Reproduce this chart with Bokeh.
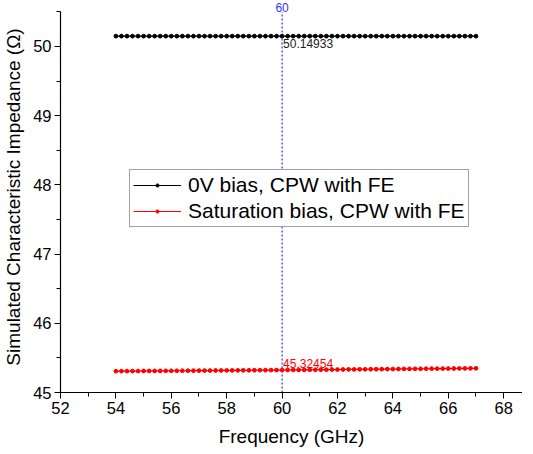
from bokeh.plotting import figure
from bokeh.models import Legend, LegendItem, Label, SingleIntervalTicker
from bokeh.embed import file_html
from bokeh.resources import INLINE

freq = [54.0, 54.2, 54.4, 54.6, 54.8, 55.0, 55.2, 55.4, 55.6, 55.8,
        56.0, 56.2, 56.4, 56.6, 56.8, 57.0, 57.2, 57.4, 57.6, 57.8,
        58.0, 58.2, 58.4, 58.6, 58.8, 59.0, 59.2, 59.4, 59.6, 59.8,
        60.0, 60.2, 60.4, 60.6, 60.8, 61.0, 61.2, 61.4, 61.6, 61.8,
        62.0, 62.2, 62.4, 62.6, 62.8, 63.0, 63.2, 63.4, 63.6, 63.8,
        64.0, 64.2, 64.4, 64.6, 64.8, 65.0, 65.2, 65.4, 65.6, 65.8,
        66.0, 66.2, 66.4, 66.6, 66.8, 67.0]

z_0v = [50.1494, 50.1494, 50.1494, 50.1494, 50.1494, 50.1494, 50.1494, 50.1494, 50.1494, 50.1494,
        50.1494, 50.1494, 50.1494, 50.1493, 50.1493, 50.1493, 50.1493, 50.1493, 50.1493, 50.1493,
        50.1493, 50.1493, 50.1493, 50.1493, 50.1493, 50.1493, 50.1493, 50.1493, 50.1493, 50.1493,
        50.1493, 50.1493, 50.1493, 50.1493, 50.1493, 50.1493, 50.1493, 50.1493, 50.1493, 50.1493,
        50.1493, 50.1493, 50.1493, 50.1493, 50.1493, 50.1492, 50.1492, 50.1492, 50.1492, 50.1492,
        50.1492, 50.1492, 50.1492, 50.1492, 50.1492, 50.1492, 50.1492, 50.1492, 50.1492, 50.1492,
        50.1492, 50.1492, 50.1492, 50.1492, 50.1492, 50.1492]

z_sat = [45.3080, 45.3085, 45.3091, 45.3096, 45.3102, 45.3107, 45.3113, 45.3118, 45.3124, 45.3129,
         45.3135, 45.3140, 45.3146, 45.3151, 45.3157, 45.3162, 45.3168, 45.3173, 45.3179, 45.3184,
         45.3190, 45.3195, 45.3201, 45.3206, 45.3212, 45.3217, 45.3223, 45.3228, 45.3234, 45.3239,
         45.3245, 45.3252, 45.3260, 45.3267, 45.3274, 45.3282, 45.3289, 45.3296, 45.3303, 45.3311,
         45.3318, 45.3325, 45.3333, 45.3340, 45.3347, 45.3355, 45.3362, 45.3369, 45.3376, 45.3384,
         45.3391, 45.3398, 45.3406, 45.3413, 45.3420, 45.3428, 45.3435, 45.3442, 45.3449, 45.3457,
         45.3464, 45.3471, 45.3479, 45.3486, 45.3493, 45.3500]

series_names = ["0V bias, CPW with FE", "Saturation bias, CPW with FE"]
marker_freq = 60
marker_label = "60"
marker_0v_text = "50.14933"
marker_sat_text = "45.32454"
marker_0v_val = 50.14933
marker_sat_val = 45.32454
y_min, y_axis_top = 45, 50.5

FONT = "Liberation Sans"

p = figure(frame_width=462, frame_height=391, output_backend="svg", toolbar_location=None,
           x_range=(52, 68.68), y_range=(y_min, 50.65),
           min_border_left=55, min_border_right=0, min_border_top=1, min_border_bottom=62)
p.outline_line_color = None
p.xgrid.visible = False
p.ygrid.visible = False
p.background_fill_color = "white"
p.border_fill_color = "white"

p.xaxis.ticker = SingleIntervalTicker(interval=2, num_minor_ticks=2)
p.yaxis.ticker = SingleIntervalTicker(interval=1, num_minor_ticks=2)
p.yaxis.bounds = (y_min, y_axis_top)
for ax in (p.xaxis[0], p.yaxis[0]):
    ax.axis_line_color = "black"
    ax.axis_line_width = 1.2
    ax.major_tick_line_color = "black"
    ax.minor_tick_line_color = "black"
    ax.major_tick_in = 0
    ax.major_tick_out = 6
    ax.minor_tick_in = 0
    ax.minor_tick_out = 4
    ax.major_label_text_font = FONT
    ax.major_label_text_font_size = "16.5px"
    ax.major_label_text_color = "black"
    ax.axis_label_text_font = FONT
    ax.axis_label_text_font_size = "19px"
    ax.axis_label_text_font_style = "normal"
    ax.axis_label_text_color = "black"
p.xaxis.axis_label = "Frequency (GHz)"
p.yaxis.axis_label = "Simulated Characteristic Impedance (Ω)"
p.xaxis.major_label_standoff = 3
p.yaxis.major_label_standoff = 3
p.xaxis.axis_label_standoff = 9
p.yaxis.axis_label_standoff = 6

# dotted marker line at 60 GHz, from bottom axis to top of y axis
p.segment(x0=[marker_freq], y0=[y_min], x1=[marker_freq], y1=[y_axis_top],
          line_color="blue", line_dash="2 2", line_width=1)

l1 = p.line(freq, z_0v, line_color="black", line_width=1.2)
s1 = p.scatter(freq, z_0v, marker="circle", size=3.8, fill_color="black", line_color="black")
l2 = p.line(freq, z_sat, line_color="red", line_width=1.2)
s2 = p.scatter(freq, z_sat, marker="circle", size=3.8, fill_color="red", line_color="red")

p.add_layout(Label(x=marker_freq, y=y_axis_top, text=marker_label, text_color="#3333ff",
                   text_font=FONT, text_font_size="12px", text_align="center",
                   text_baseline="middle", y_offset=4.5))
p.add_layout(Label(x=marker_freq, y=marker_0v_val, text=marker_0v_text, text_color="#222222",
                   text_font=FONT, text_font_size="12px", text_align="left",
                   text_baseline="top", x_offset=1, y_offset=-3))
p.add_layout(Label(x=marker_freq, y=marker_sat_val, text=marker_sat_text, text_color="red",
                   text_font=FONT, text_font_size="12px", text_align="left",
                   text_baseline="bottom", x_offset=1, y_offset=2))

legend = Legend(items=[LegendItem(label=series_names[0], renderers=[l1, s1]),
                       LegendItem(label=series_names[1], renderers=[l2, s2])],
                location=(69, 165))
legend.label_text_font = FONT
legend.label_text_font_size = "21px"
legend.label_text_color = "black"
legend.border_line_color = "#444444"
legend.border_line_width = 1
legend.background_fill_alpha = 1
legend.glyph_width = 48
legend.glyph_height = 8
legend.label_height = 24
legend.spacing = 2
legend.padding = 3
legend.margin = 0
legend.label_standoff = 7
p.add_layout(legend, "center")

html = file_html(p, INLINE)
open("out.html", "w").write(html)
